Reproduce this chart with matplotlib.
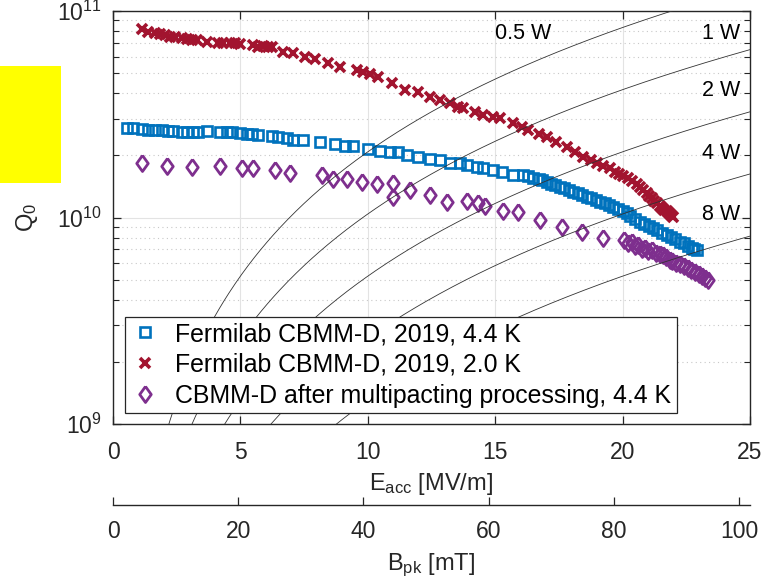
import numpy as np
import matplotlib
matplotlib.use('Agg')
import matplotlib.pyplot as plt
from matplotlib.patches import Rectangle
from matplotlib.ticker import LogLocator, NullFormatter, LogFormatterMathtext

plt.rcParams['font.family'] = 'Liberation Sans'
plt.rcParams['mathtext.fontset'] = 'custom'
plt.rcParams['mathtext.rm'] = 'Liberation Sans'
plt.rcParams['mathtext.it'] = 'Liberation Sans:italic'
plt.rcParams['mathtext.bf'] = 'Liberation Sans:bold'

# Fermilab CBMM-D, 2019, 4.4 K  (Eacc [MV/m], Q0)
e_44 = [0.54, 0.80, 1.13, 1.39, 1.65, 1.91, 2.17, 2.37, 2.70, 2.89, 3.15, 3.35, 3.68,
        4.20, 4.46, 4.66, 4.98, 5.25, 5.44, 5.70, 6.23, 6.49, 6.82, 7.08, 7.47, 8.12,
        8.71, 9.11, 9.43, 10.02, 10.48, 10.87, 11.20, 11.53, 11.98, 12.44, 12.83, 13.23,
        13.62, 13.88, 14.27, 14.53, 14.93, 15.26, 15.71, 16.10, 16.30, 16.50, 16.70, 16.85,
        17.02, 17.20, 17.35, 17.54, 17.70, 17.90, 18.07, 18.25, 18.40, 18.59, 18.75, 18.95,
        19.11, 19.30, 19.45, 19.64, 19.80, 20.00, 20.16, 20.30, 20.50, 20.68, 20.85, 21.05,
        21.21, 21.35, 21.55, 21.73, 21.90, 22.05, 22.25, 22.40, 22.55, 22.71, 22.82, 22.91]
q_44 = [2.70e10, 2.70e10, 2.67e10, 2.65e10, 2.65e10, 2.65e10, 2.63e10, 2.62e10, 2.59e10,
        2.59e10, 2.60e10, 2.60e10, 2.62e10, 2.59e10, 2.59e10, 2.59e10, 2.56e10, 2.54e10,
        2.53e10, 2.51e10, 2.48e10, 2.46e10, 2.42e10, 2.37e10, 2.37e10, 2.33e10, 2.26e10,
        2.23e10, 2.23e10, 2.15e10, 2.11e10, 2.08e10, 2.07e10, 2.01e10, 1.97e10, 1.93e10,
        1.90e10, 1.84e10, 1.83e10, 1.79e10, 1.76e10, 1.73e10, 1.70e10, 1.67e10, 1.61e10,
        1.60e10, 1.58e10, 1.55e10, 1.53e10, 1.52e10, 1.49e10, 1.46e10, 1.44e10, 1.41e10,
        1.39e10, 1.36e10, 1.33e10, 1.31e10, 1.29e10, 1.26e10, 1.24e10, 1.21e10, 1.19e10,
        1.17e10, 1.15e10, 1.13e10, 1.10e10, 1.07e10, 1.05e10, 1.02e10, 9.85e9, 9.55e9,
        9.30e9, 9.05e9, 8.88e9, 8.70e9, 8.45e9, 8.23e9, 8.05e9, 7.90e9, 7.64e9, 7.50e9,
        7.30e9, 7.10e9, 7.02e9, 6.97e9]

# Fermilab CBMM-D, 2019, 2.0 K
e_20 = [1.13, 1.37, 1.65, 1.84, 2.04, 2.24, 2.43, 2.70, 2.89, 3.09, 3.28, 3.68, 4.12,
        4.32, 4.59, 4.79, 4.98, 5.49, 5.69, 5.89, 6.08, 6.23, 6.67, 7.06, 7.54, 7.93,
        8.44, 8.91, 9.58, 9.81, 10.09, 10.40, 10.95, 11.46, 11.98, 12.44, 12.83, 13.23,
        13.55, 13.75, 14.21, 14.53, 14.93, 15.19, 15.71, 16.04, 16.30, 16.70, 17.02, 17.40,
        17.81, 18.15, 18.46, 18.75, 18.98, 19.25, 19.51, 19.70, 19.85, 20.03, 20.20, 20.35,
        20.55, 20.70, 20.82, 20.94, 21.05, 21.15, 21.25, 21.34, 21.45, 21.55, 21.63, 21.73,
        21.82, 21.90, 21.99]
q_20 = [8.15e10, 7.94e10, 7.80e10, 7.74e10, 7.66e10, 7.51e10, 7.46e10, 7.38e10, 7.32e10,
        7.24e10, 7.24e10, 7.10e10, 6.98e10, 6.98e10, 7.02e10, 6.98e10, 6.92e10, 6.84e10,
        6.71e10, 6.77e10, 6.67e10, 6.71e10, 6.35e10, 6.24e10, 6.01e10, 5.84e10, 5.58e10,
        5.38e10, 5.18e10, 5.08e10, 4.95e10, 4.78e10, 4.47e10, 4.14e10, 4.06e10, 3.85e10,
        3.71e10, 3.57e10, 3.44e10, 3.38e10, 3.25e10, 3.13e10, 3.08e10, 3.02e10, 2.86e10,
        2.75e10, 2.65e10, 2.55e10, 2.46e10, 2.33e10, 2.20e10, 2.08e10, 1.97e10, 1.90e10,
        1.83e10, 1.78e10, 1.73e10, 1.67e10, 1.63e10, 1.59e10, 1.55e10, 1.51e10, 1.46e10,
        1.41e10, 1.36e10, 1.31e10, 1.27e10, 1.24e10, 1.20e10, 1.17e10, 1.14e10, 1.11e10,
        1.09e10, 1.07e10, 1.05e10, 1.03e10, 1.01e10]

# CBMM-D after multipacting processing, 4.4 K
e_mp = [1.13, 2.11, 3.09, 4.20, 5.05, 5.51, 6.36, 6.95, 8.19, 8.65, 9.17, 9.76, 10.35,
        11.00, 11.00, 11.66, 12.44, 13.10, 13.88, 14.34, 14.60, 15.32, 15.89, 16.76, 17.61,
        18.39, 19.24, 20.05, 20.20, 20.37, 20.50, 20.60, 20.75, 20.88, 21.00, 21.15, 21.30,
        21.47, 21.60, 21.70, 21.85, 21.94, 22.10, 22.25, 22.40, 22.57, 22.70, 22.84, 23.00,
        23.12, 23.25, 23.35]
q_mp = [1.83e10, 1.78e10, 1.76e10, 1.78e10, 1.73e10, 1.73e10, 1.70e10, 1.64e10, 1.61e10,
        1.53e10, 1.53e10, 1.49e10, 1.45e10, 1.47e10, 1.25e10, 1.36e10, 1.28e10, 1.19e10,
        1.20e10, 1.17e10, 1.14e10, 1.07e10, 1.06e10, 9.72e9, 9.02e9, 8.51e9, 7.96e9,
        7.75e9, 7.50e9, 7.60e9, 7.30e9, 7.36e9, 7.05e9, 7.12e9, 6.90e9, 6.96e9, 6.70e9,
        6.66e9, 6.55e9, 6.44e9, 6.25e9, 6.16e9, 6.05e9, 5.96e9, 5.80e9, 5.69e9, 5.55e9,
        5.44e9, 5.32e9, 5.21e9, 5.10e9, 4.98e9]

labels = ['Fermilab CBMM-D, 2019, 4.4 K',
          'Fermilab CBMM-D, 2019, 2.0 K',
          'CBMM-D after multipacting processing, 4.4 K']

# constant dissipated power curves: Q0 = q_per_watt * Eacc^2 / P
powers = [0.5, 1, 2, 4, 8]
power_labels = ['0.5 W', '1 W', '2 W', '4 W', '8 W']
q_per_watt = 1.04e8
bpk_per_eacc = 4.07

blue = '#0072BD'
red = '#A2142F'
purple = '#7E2F8E'
txt = '#262626'
diamond = [(0, 1), (0.72, 0), (0, -1), (-0.72, 0), (0, 1)]

fig = plt.figure(figsize=(7.65, 5.87), dpi=100)
ax = fig.add_axes([113 / 765, 1 - 424 / 587, 637 / 765, 413 / 587])

ax.plot(e_44, q_44, ls='none', marker='s', ms=6.8, mfc='none', mec=blue, mew=1.9, label=labels[0])
ax.plot(e_20, q_20, ls='none', marker='x', ms=7.5, mec=red, mew=2.6, label=labels[1])
ax.plot(e_mp, q_mp, ls='none', marker=diamond, ms=11.5, mfc='none', mec=purple, mew=2.0, label=labels[2])

e_line = np.linspace(0.05, 25, 400)
for p in powers:
    ax.plot(e_line, q_per_watt * e_line ** 2 / p, color='#333333', lw=0.6, zorder=3)

ax.text(15.0, 7.8e10, power_labels[0], fontsize=15.5, color='black', ha='left', va='center')
ax.text(24.6, 7.8e10, power_labels[1], fontsize=15.5, color='black', ha='right', va='center')
ax.text(24.6, 4.14e10, power_labels[2], fontsize=15.5, color='black', ha='right', va='center')
ax.text(24.6, 2.05e10, power_labels[3], fontsize=15.5, color='black', ha='right', va='center')
ax.text(24.6, 1.03e10, power_labels[4], fontsize=15.5, color='black', ha='right', va='center')

ax.set_yscale('log')
ax.set_xlim(0, 25)
ax.set_ylim(1e9, 1e11)
ax.set_xticks([0, 5, 10, 15, 20, 25])
ax.yaxis.set_major_locator(LogLocator(base=10))
ax.yaxis.set_major_formatter(LogFormatterMathtext())
ax.yaxis.set_minor_locator(LogLocator(base=10, subs=range(2, 10)))
ax.yaxis.set_minor_formatter(NullFormatter())

ax.grid(True, which='major', color='#e3e3e3', ls='-', lw=0.8)
ax.grid(True, which='minor', axis='y', color='#c8c8c8', ls=(0, (1, 3)), lw=0.8)
ax.set_axisbelow(True)

ax.tick_params(which='both', direction='in', top=True, right=True, colors=txt, labelsize=16.5)
ax.tick_params(which='major', length=6, width=0.9)
ax.tick_params(which='minor', length=4, width=0.8)
ax.tick_params(axis='x', pad=12)
ax.tick_params(axis='y', pad=8)
for s in ax.spines.values():
    s.set_color(txt)
    s.set_linewidth(1.0)

ax.set_ylabel(r'Q$_0$', fontsize=17, color=txt)
ax.yaxis.set_label_coords(-0.115, 0.5)
ax.set_xlabel(r'E$_{\rm acc}$ [MV/m]', fontsize=17, color=txt, va='top')
ax.xaxis.set_label_coords(0.5, -0.113)

leg = ax.legend(loc='lower left', bbox_to_anchor=(12 / 637, 11 / 413), borderaxespad=0,
                fontsize=17.9, frameon=True, fancybox=False, framealpha=1, edgecolor=txt,
                handlelength=1.2, handletextpad=0.6, borderpad=0.22, labelspacing=0.27,
                numpoints=1)
leg.get_frame().set_linewidth(0.9)
leg.set_zorder(5)

# peak magnetic field axis
bax = fig.add_axes([113 / 765, 1 - 505 / 587, 637 / 765, 0.0001])
bax.set_xlim(0, 25 * bpk_per_eacc)
bax.set_xticks([0, 20, 40, 60, 80, 100])
bax.set_yticks([])
bax.patch.set_visible(False)
for side in ['top', 'left', 'right']:
    bax.spines[side].set_visible(False)
bax.spines['bottom'].set_color(txt)
bax.spines['bottom'].set_linewidth(1.0)
bax.tick_params(axis='x', direction='in', length=6, width=0.9, colors=txt, labelsize=16.5, pad=11)
fig.text(431.5 / 765, 1 - 552 / 587, r'B$_{\rm pk}$ [mT]', fontsize=17, color=txt, ha='center', va='top')

fig.add_artist(Rectangle((0, 1 - 183 / 587), 61 / 765, 117 / 587, transform=fig.transFigure,
                         facecolor='#ffff00', edgecolor='none'))

fig.savefig('out.png', dpi=100)
